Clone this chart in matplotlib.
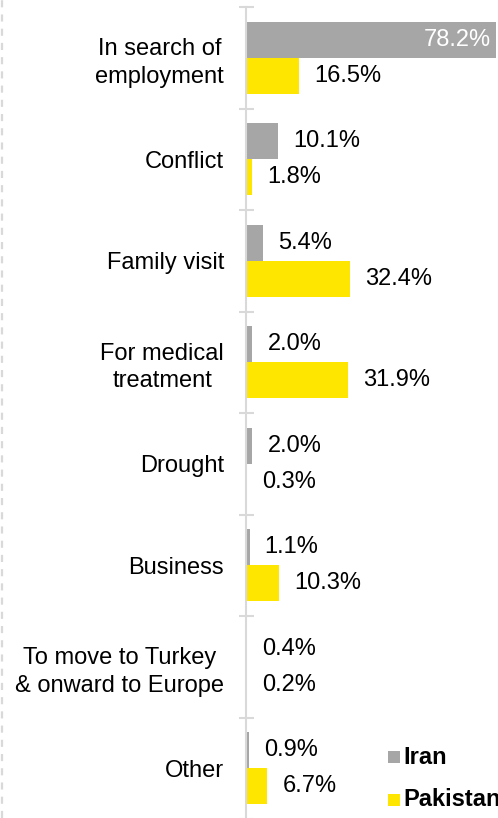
import matplotlib
matplotlib.use("Agg")
import matplotlib.pyplot as plt
from matplotlib.patches import Rectangle
from matplotlib.lines import Line2D
from matplotlib.transforms import offset_copy
import numpy as np

categories = ["In search of\nemployment", "Conflict", "Family visit",
              "For medical\ntreatment", "Drought", "Business",
              "To move to Turkey\n& onward to Europe", "Other"]
series_names = ["Iran", "Pakistan"]
iran = [78.2, 10.1, 5.4, 2.0, 2.0, 1.1, 0.4, 0.9]
pakistan = [16.5, 1.8, 32.4, 31.9, 0.3, 10.3, 0.2, 6.7]
colors = ["#A6A6A6", "#FFE600"]

plt.rcParams['font.family'] = ['Liberation Sans', 'DejaVu Sans']
FS = 17
W, H = 498, 818
fig = plt.figure(figsize=(W / 100, H / 100), dpi=100)

ax_left = 246 / W
ax_top_px, ax_bot_px = 7, 819
ax = fig.add_axes([ax_left, (H - ax_bot_px) / H, 1 - ax_left, (ax_bot_px - ax_top_px) / H])

n = len(categories)
y = np.arange(n)
bh = 0.355
ax.barh(y - bh / 2, iran, height=bh, color=colors[0], linewidth=0)
ax.barh(y + bh / 2, pakistan, height=bh, color=colors[1], linewidth=0)

ax.set_xlim(0, (W - 246) / 3.2)
ax.set_ylim(n - 0.5, -0.5)

# value labels
off_r = offset_copy(ax.transData, fig=fig, x=15, y=0, units='dots')
off_in = offset_copy(ax.transData, fig=fig, x=-5, y=0, units='dots')
for i, v in enumerate(iran):
    if v > 60:
        ax.text(v, i - bh / 2, f"{v:.1f}%", transform=off_in, ha='right', va='center',
                color='white', fontsize=FS, clip_on=False)
    else:
        ax.text(v, i - bh / 2, f"{v:.1f}%", transform=off_r, ha='left', va='center',
                color='black', fontsize=FS, clip_on=False)
for i, v in enumerate(pakistan):
    ax.text(v, i + bh / 2, f"{v:.1f}%", transform=off_r, ha='left', va='center',
            color='black', fontsize=FS, clip_on=False)

# axes styling
for s in ['top', 'right', 'bottom']:
    ax.spines[s].set_visible(False)
ax.spines['left'].set_color('#D9D9D9')
ax.spines['left'].set_linewidth(1.5)
ax.set_xticks([])
ax.set_yticks(y)
ax.set_yticklabels(categories, fontsize=FS, multialignment='center', linespacing=1.32)
ax.tick_params(axis='y', which='major', length=0, pad=15.8)
ax.set_yticks(np.arange(n + 1) - 0.5, minor=True)
ax.tick_params(axis='y', which='minor', length=10.8, direction='inout', color='#D9D9D9', width=1.5)

# left dashed border
fig.add_artist(Line2D([2 / W, 2 / W], [0, 1], transform=fig.transFigure,
                      color='#D9D9D9', linewidth=1.6, linestyle=(0, (3.2, 3.2))))

# legend
leg_y = [757, 800]
for name, c, yy in zip(series_names, colors, leg_y):
    fig.add_artist(Rectangle((388 / W, (H - yy - 6) / H), 12 / W, 12 / H,
                             transform=fig.transFigure, color=c, linewidth=0))
    fig.text(403 / W, (H - yy) / H, name, fontsize=FS, fontweight='bold',
             ha='left', va='center')

fig.savefig("out.png", dpi=100)
